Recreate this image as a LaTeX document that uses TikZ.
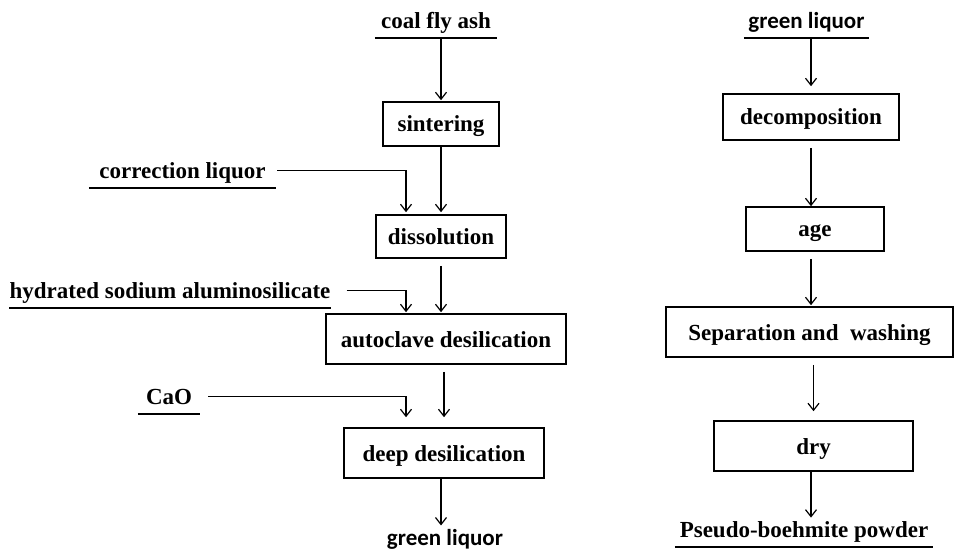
\documentclass[tikz,border=0pt]{standalone}
\usepackage{fontspec}
\setmainfont{Liberation Serif}
\newfontfamily\glfont{Carlito}
\usetikzlibrary{arrows.meta, positioning}
\newcommand{\figfont}{\fontsize{23}{27}\selectfont\bfseries}
\tikzstyle{arrow} = [line width=1.2pt, -{Straight Barb[length=7pt,width=11pt]}]
\tikzstyle{process} = [rectangle, draw=black, line width=1.6pt, inner sep=0pt, text height=20pt, text depth=4pt, text centered, font=\figfont]
\tikzstyle{feed} = [anchor=south, inner xsep=0pt, inner ysep=3pt, text height=17pt, text depth=6pt, font=\figfont]
\tikzstyle{uline} = [line width=1.4pt]

\begin{document}
\begin{tikzpicture}[x=1pt, y=-1pt]
    \useasboundingbox (0,0) rectangle (955,553);

    % Linea izquierda
    \node (cfa) [feed, minimum width=122pt] at (436,38) {coal fly ash};
    \node (sin) [process, minimum width=116pt, minimum height=44pt] at (441,124) {sintering};
    \node (corr) [feed, minimum width=187pt] at (182.5,188) {correction liquor};
    \node (dis) [process, minimum width=130pt, minimum height=43pt] at (441,236.5) {dissolution};
    \node (hsa) [feed, minimum width=318pt] at (170,308) {hydrated sodium aluminosilicate};
    \node (auto) [process, minimum width=240pt, minimum height=50pt] at (446,339) {autoclave desilication};
    \node (cao) [feed, minimum width=62pt] at (169,414) {CaO};
    \node (deep) [process, minimum width=200pt, minimum height=50pt] at (444,453) {deep desilication};
    \node (glout) [font=\figfont\glfont] at (445,539) {green liquor};

    % Linea derecha
    \node (glin) [feed, font=\figfont\glfont, minimum width=125pt] at (806.5,38) {green liquor};
    \node (dec) [process, minimum width=176pt, minimum height=46pt] at (811,117) {decomposition};
    \node (age) [process, minimum width=138pt, minimum height=44pt] at (815,229) {age};
    \node (sep) [process, minimum width=287pt, minimum height=50pt] at (809.5,332) {Separation and~ washing};
    \node (dry) [process, minimum width=199pt, minimum height=50pt] at (813.5,446) {dry};
    \node (pbp) [feed, minimum width=258pt] at (804,547) {Pseudo-boehmite powder};

    % Subrayados
    \foreach \n in {cfa, corr, hsa, cao, glin, pbp}
        \draw [uline] (\n.south west) -- (\n.south east);

    % Flechas izquierda
    \draw [arrow] (cfa.south -| sin.north) -- ([yshift=1pt]sin.north);
    \draw [arrow] (sin.south) -- ([yshift=2pt]dis.north);
    \draw [arrow] ([yshift=-7pt]dis.south) -- ([yshift=1pt]auto.north -| dis.south);
    \draw [arrow] ([yshift=-7pt]auto.south -| deep.north) -- ([yshift=10pt]deep.north);
    \draw [arrow] (deep.south -| dis.south) -- (glout.north -| dis.south);

    % Entradas laterales
    \draw [arrow] ([xshift=1pt,yshift=6pt]corr.mid east) -| ([xshift=-35pt,yshift=2pt]dis.north);
    \draw [arrow] ([xshift=16pt,yshift=6pt]hsa.mid east) -| ([xshift=-40pt,yshift=1pt]auto.north);
    \draw [arrow] ([xshift=8pt,yshift=6pt]cao.mid east) -| ([xshift=-38pt,yshift=10pt]deep.north);

    % Flechas derecha
    \draw [arrow] (glin.south -| dec.north) -- ([yshift=7pt]dec.north);
    \draw [arrow] ([yshift=-7pt]dec.south) -- (age.north -| dec.south);
    \draw [arrow] ([yshift=-7pt]age.south -| dec.south) -- ([yshift=1pt]sep.north -| dec.south);
    \draw [arrow] ([yshift=-7pt]sep.south -| dry.north) -- ([yshift=9pt]dry.north);
    \draw [arrow] (dry.south -| dec.south) -- (pbp.north -| dec.south);
\end{tikzpicture}
\end{document}
